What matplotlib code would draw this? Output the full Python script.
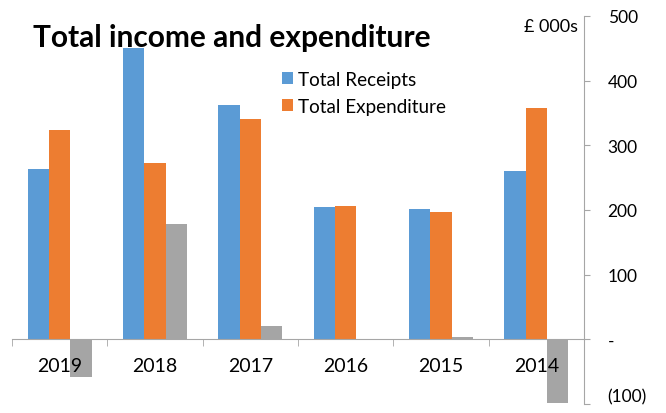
import matplotlib.pyplot as plt
import numpy as np

years = ["2019", "2018", "2017", "2016", "2015", "2014"]
receipts = [264, 451, 362, 205, 201, 260]
expenditure = [323, 273, 341, 206, 197, 358]
net = [-59, 178, 21, -1, 4, -98]

ytick_vals = [-100, 0, 100, 200, 300, 400, 500]
ytick_labels = ["(100)", "-", "100", "200", "300", "400", "500"]

plt.rcParams['font.family'] = ['Lato', 'DejaVu Sans']

fig = plt.figure(figsize=(6.66, 4.14), dpi=100)
ax = fig.add_axes([12 / 666, 9 / 414, (584 - 12) / 666, (405 - 17) / 414])

x = np.arange(len(years))
w = 0.224
ax.bar(x - w, receipts, w, color="#5B9BD5", label="Total Receipts")
ax.bar(x, expenditure, w, color="#ED7D31", label="Total Expenditure")
ax.bar(x + w, net, w, color="#A5A5A5")

ax.set_xlim(-0.5, 5.5)
ax.set_ylim(-100, 500)

axis_col = "#A6A6A6"
for s in ["top", "left"]:
    ax.spines[s].set_visible(False)
ax.spines["bottom"].set_position(("data", 0))
ax.spines["bottom"].set_color(axis_col)
ax.spines["right"].set_color(axis_col)

ax.yaxis.tick_right()
ax.set_yticks(ytick_vals)
ax.set_yticklabels(ytick_labels)
ax.tick_params(axis="y", length=4, color=axis_col, pad=13, labelsize=12.5)
for lbl in ax.get_yticklabels():
    if lbl.get_text() == "(100)":
        lbl.set_va("bottom")

ax.set_xticks(x)
ax.set_xticklabels(years)
ax.set_xticks(np.arange(-0.5, 6, 1), minor=True)
ax.tick_params(axis="x", which="major", length=0, pad=13, labelsize=14)
ax.tick_params(axis="x", which="minor", length=5, color=axis_col)

fig.text(33 / 666, 1 - 38 / 414, "Total income and expenditure", fontsize=21.5,
         fontweight="bold", va="center", ha="left")
fig.text(578 / 666, 1 - 27 / 414, "£ 000s", fontsize=13, va="center", ha="right")

ax.legend(loc="upper left", bbox_to_anchor=(262 / 572, 1 - 47 / 388), frameon=False,
          fontsize=13.6, handlelength=0.58, handleheight=0.58, handletextpad=0.3,
          labelspacing=0.55, borderaxespad=0)

fig.savefig("out.png", dpi=100)
